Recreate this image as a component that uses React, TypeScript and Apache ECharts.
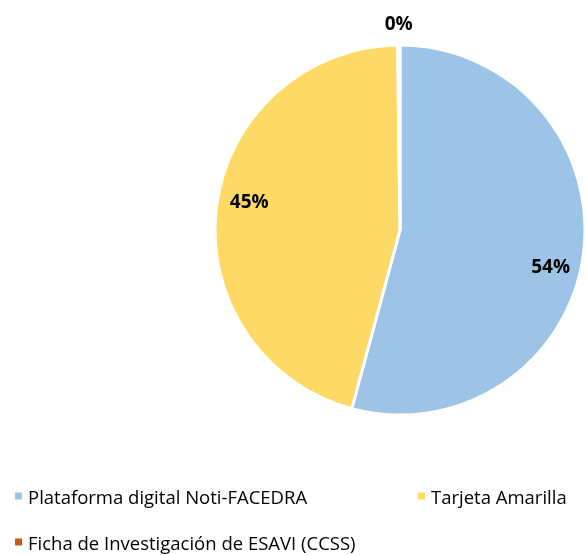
import React, { useEffect, useRef } from "react";
import * as echarts from "echarts";

const categories = [
  "Plataforma digital Noti-FACEDRA",
  "Tarjeta Amarilla",
  "Ficha de Investigación de ESAVI (CCSS)",
];
const values = [54.2, 45.6, 0.2];
const labels = ["54%", "45%", "0%"];
const colors = ["#9DC3E6", "#FFD966", "#C55A11"];

export default function App() {
  const ref = useRef<HTMLDivElement>(null);
  useEffect(() => {
    const chart = echarts.init(ref.current!, undefined, { renderer: "svg" });
    const font = "'Open Sans', 'Noto Sans', sans-serif";
    const baseData = categories.map((name, i) => ({
      name,
      value: values[i],
      itemStyle: { color: colors[i] },
    }));
    const labelOffsets = [[0, 16], [0, -10], [0, 0]];
    const legendText = {
      fontSize: 18.5,
      color: "#000",
      fontFamily: font,
      lineHeight: 20,
    };
    chart.setOption({
      animation: false,
      legend: [
        {
          data: [categories[0]],
          left: 8,
          top: 484,
          itemWidth: 9,
          itemHeight: 9,
          icon: "rect",
          padding: [2, 5],
          textStyle: legendText,
        },
        {
          data: [categories[1]],
          left: 411,
          top: 484,
          itemWidth: 9,
          itemHeight: 9,
          icon: "rect",
          padding: [2, 5],
          textStyle: legendText,
        },
        {
          data: [categories[2]],
          left: 8,
          top: 530,
          itemWidth: 9,
          itemHeight: 9,
          icon: "rect",
          padding: [2, 5],
          textStyle: legendText,
        },
      ],
      series: [
        {
          type: "pie",
          center: [400, 230],
          radius: [0, 185],
          startAngle: 90,
          clockwise: true,
          label: { show: false },
          labelLine: { show: false },
          itemStyle: { borderColor: "#fff", borderWidth: 3 },
          data: baseData,
        },
        {
          type: "pie",
          center: [400, 230],
          radius: [113, 185],
          startAngle: 90,
          clockwise: true,
          silent: true,
          legendHoverLink: false,
          labelLine: { show: false },
          itemStyle: { color: "transparent" },
          label: {
            show: true,
            position: "inside",
            fontSize: 19,
            fontWeight: "bold",
            color: "#000",
            fontFamily: font,
          },
          data: categories.map((name, i) => ({
            name,
            value: values[i],
            itemStyle: { color: "transparent" },
            label: {
              show: i < 2,
              formatter: labels[i],
              offset: labelOffsets[i],
            },
          })),
        },
        {
          type: "pie",
          center: [400, 230],
          radius: [188, 220],
          startAngle: 90,
          clockwise: true,
          silent: true,
          legendHoverLink: false,
          labelLine: { show: false },
          itemStyle: { color: "transparent" },
          label: {
            show: true,
            position: "inside",
            fontSize: 19,
            fontWeight: "bold",
            color: "#000",
            fontFamily: font,
          },
          data: categories.map((name, i) => ({
            name,
            value: values[i],
            itemStyle: { color: "transparent" },
            label: { show: i === 2, formatter: labels[i] },
          })),
        },
      ],
    });
    return () => chart.dispose();
  }, []);
  return (
    <div
      ref={ref}
      style={{ position: "fixed", left: 0, top: 0, width: 586, height: 555 }}
    />
  );
}
